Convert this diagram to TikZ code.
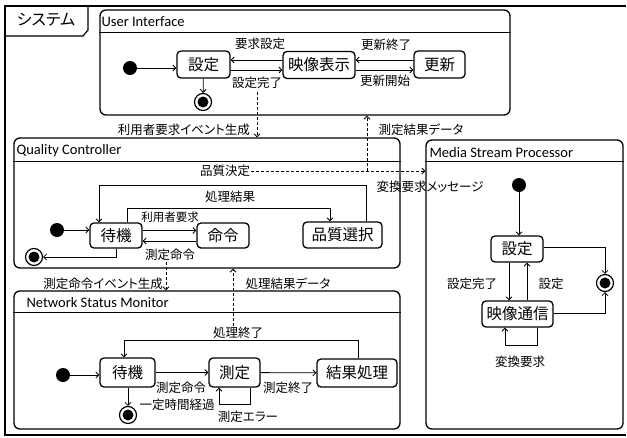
\documentclass[tikz,border=0pt]{standalone}
\usepackage{fontspec}
\setmainfont{Noto Sans CJK JP}[RawFeature=+palt]
\newfontfamily\titlefont{Carlito}
\usetikzlibrary{arrows.meta}

\begin{document}
\begin{tikzpicture}[x=1pt, y=-1pt,
  >={Straight Barb[length=3pt,width=6pt]},
  every node/.style={font=\fontsize{12.5}{14}\selectfont, inner sep=1pt},
  region/.style={draw, line width=1.3pt, rounded corners=6pt, inner sep=0pt},
  title/.style={anchor=west, font=\titlefont\fontsize{14.5}{16}\selectfont},
  state/.style={draw, line width=1.3pt, rounded corners=4pt, inner xsep=4pt,
    minimum height=27pt, font=\fontsize{15.5}{17}\selectfont},
  init/.style={circle, fill, minimum size=14pt, inner sep=0pt},
  final/.style={circle, draw, line width=1.2pt, minimum size=17pt, inner sep=0pt,
    path picture={\fill (path picture bounding box.center) circle (5.5pt);}},
  trans/.style={->, line width=0.8pt},
  msg/.style={->, line width=0.8pt, dash pattern=on 3pt off 2pt},
  small/.style={font=\fontsize{11.5}{13}\selectfont}]
  \useasboundingbox (0,0) rectangle (627,437);

  % frame
  \draw[line width=1.2pt] (626,6) -- (5,6) -- (5,435) -- (626,435);
  \draw[line width=1.2pt] (5,36) -- (83,36) -- (88,30) -- (88,6);
  \node[font=\fontsize{16}{18}\selectfont] (sys) at (46,20) {システム};

  % regions
  \node[region, minimum width=410pt, minimum height=105pt] (ui) at (305,62.5) {};
  \node[region, minimum width=386pt, minimum height=130pt] (qc) at (207,203) {};
  \node[region, minimum width=386pt, minimum height=138pt] (ns) at (207,360) {};
  \node[region, minimum width=197pt, minimum height=289pt] (ms) at (524.5,284.5) {};
  \draw[line width=1.3pt] ([yshift=-23pt]ui.north west) -- ([yshift=-23pt]ui.north east);
  \draw[line width=1.3pt] ([yshift=-24pt]qc.north west) -- ([yshift=-24pt]qc.north east);
  \draw[line width=1.3pt] ([yshift=-22pt]ns.north west) -- ([yshift=-22pt]ns.north east);
  \draw[line width=1.3pt] ([yshift=-22pt]ms.north west) -- ([yshift=-22pt]ms.north east);
  \node[title] (uititle) at ([xshift=1pt,yshift=-12pt]ui.north west) {User Interface};
  \node[title] (qctitle) at ([xshift=2pt,yshift=-13pt]qc.north west) {Quality Controller};
  \node[title] (nstitle) at ([xshift=12pt,yshift=-12pt]ns.north west) {Network Status Monitor};
  \node[title] (mstitle) at ([xshift=3pt,yshift=-13pt]ms.north west) {Media Stream Processor};

  % User Interface
  \node[init] (ui0) at (130,68) {};
  \node[state, minimum width=53pt] (uiset) at (203.5,64.5) {設定};
  \node[final] (uifin) at (203,102) {};
  \node[state, minimum width=72pt] (uidisp) at (319,65) {映像表示};
  \node[state, minimum width=51pt] (uiupd) at (439.5,64.5) {更新};
  \draw[trans] (ui0) -- (ui0 -| uiset.west);
  \draw[trans] (uiset) -- (uifin);
  \draw[trans] (uidisp.west |- 0,60) -- (uiset.east |- 0,60);
  \draw[trans] (uiset.east |- 0,70) -- (uidisp.west |- 0,70);
  \draw[trans] (uiupd.west |- 0,60) -- (uidisp.east |- 0,60);
  \draw[trans] (uidisp.east |- 0,70) -- (uiupd.west |- 0,70);
  \node (lreq) at (260,44) {要求設定};
  \node (ldone) at (257,83) {設定完了};
  \node (lend) at (386,45) {更新終了};
  \node (lbeg) at (385,81) {更新開始};

  % messages
  \draw[msg] ([yshift=-2pt]ldone.south) -- (ldone.south |- qc.north);
  \node[anchor=east] (lusr) at (251,130) {利用者要求イベント生成};
  \node (lqual) at (225,171) {品質決定};
  \draw[msg] (lqual.east) -- (lqual.east -| ms.west);
  \coordinate (cross) at (367,171);
  \draw[msg] (cross) -- (cross |- ui.south);
  \node (lres) at (421,130) {測定結果データ};
  \node (lconv) at (430,187) {変換要求メッセージ};

  % Quality Controller
  \node[init] (qc0) at (57,230) {};
  \node[state, minimum width=52pt, minimum height=25pt] (qcwait) at (116,235.5) {待機};
  \node[state, minimum width=52pt, minimum height=25pt] (qccmd) at (223,235.5) {命令};
  \node[state, minimum width=79pt, minimum height=26pt] (qcsel) at (342.5,235) {品質選択};
  \node[final] (qcfin) at (34,257) {};
  \draw[trans] (qc0) -- (qc0 -| qcwait.west);
  \draw[trans] (qcwait.east |- 0,230.5) -- (qccmd.west |- 0,230.5);
  \draw[trans] (qccmd.west |- 0,241) -- (qcwait.east |- 0,241);
  \draw[trans] (qcwait.south) |- (qcfin.east);
  \draw[trans] (qcsel.north -| 366,0) |- (99,185) -- (qcwait.north -| 99,0);
  \draw[trans] (qcwait.north -| 127,0) |- (330,208) -- (qcsel.north -| 330,0);
  \node[small] (lusrreq) at (170,217) {利用者要求};
  \node (lmeas) at (170,255) {測定命令};
  \node (lproc) at (230,197) {処理結果};

  \draw[msg] (lmeas.south -| 166,0) -- (166,0 |- ns.north);
  \node[anchor=east] (lmcmd) at (164,284) {測定命令イベント生成};
  \node (lpdone) at (238,333) {処理終了};
  \draw[msg] (lpdone.north -| 233,0) -- (233,0 |- qc.south);
  \node (lpres) at (288,284) {処理結果データ};

  % Network Status Monitor
  \node[init] (ns0) at (63,375) {};
  \node[state, minimum width=55pt, minimum height=29pt] (nswait) at (127.5,372.5) {待機};
  \node[state, minimum width=51pt, minimum height=29pt] (nsmeas) at (234.5,372.5) {測定};
  \node[state, minimum width=80pt, minimum height=28pt] (nsproc) at (357,373) {結果処理};
  \node[final] (nsfin) at (128,415) {};
  \draw[trans] (ns0) -- (ns0 -| nswait.west);
  \draw[trans] (nswait) -- (nsmeas);
  \draw[trans] (nsmeas) -- (nsproc);
  \draw[trans] (nswait.south -| nsfin) -- (nsfin);
  \draw[trans] (nsmeas.south -| 250,0) |- (219,404) -- (nsmeas.south -| 219,0);
  \draw[trans] (nsproc.north -| 358,0) |- (124,340) -- (nswait.north -| 124,0);
  \node (lncmd) at (181,388) {測定命令};
  \node (lnend) at (288,388) {測定終了};
  \node (ltime) at (177,405) {一定時間経過};
  \node (lerr) at (248,417) {測定エラー};

  % Media Stream Processor
  \node[init] (ms0) at (519,185) {};
  \node[state, minimum width=52pt, minimum height=26pt] (msset) at (517,249) {設定};
  \node[state, minimum width=71pt, minimum height=26pt] (mscom) at (517.5,314) {映像通信};
  \node[final] (msfin) at (605,283) {};
  \draw[trans] (ms0) -- (ms0 |- msset.north);
  \draw[trans] (msset.south -| 509,0) -- (mscom.north -| 509,0);
  \draw[trans] (mscom.north -| 527,0) -- (msset.south -| 527,0);
  \draw[trans] (msset.east |- 0,247) -| (msfin.north);
  \draw[trans] (mscom.east |- 0,313) -| (msfin.south);
  \draw[trans] (mscom.south -| 537,0) |- (505,345) -- (mscom.south -| 505,0);
  \node (lmdone) at (472,284) {設定完了};
  \node (lmset) at (551,284) {設定};
  \node (lmconv) at (520,362) {変換要求};
\end{tikzpicture}
\end{document}
